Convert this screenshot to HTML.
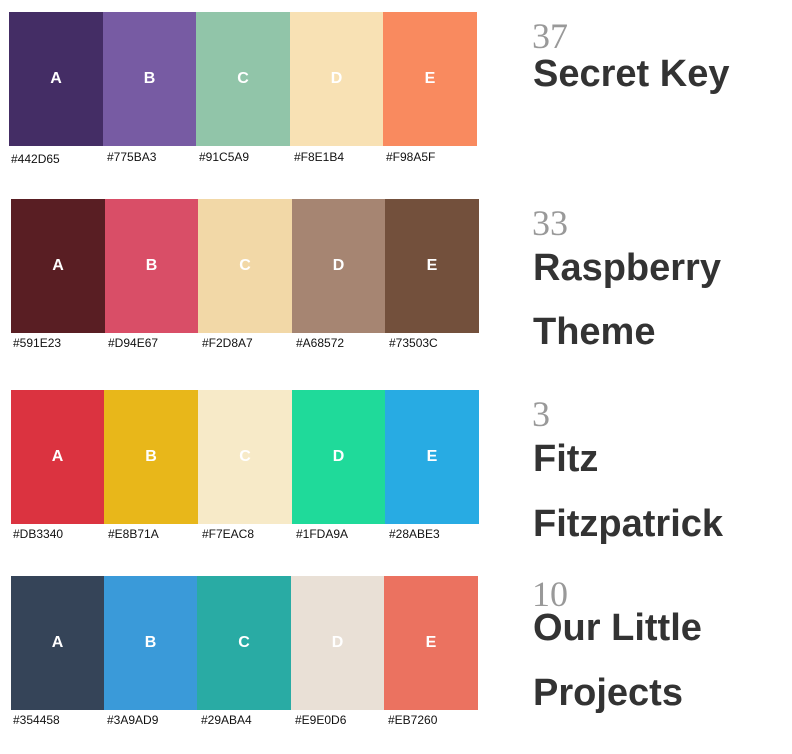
<!DOCTYPE html>
<html><head><meta charset="utf-8"><style>
body{margin:0;width:792px;height:754px;background:#fff;position:relative;overflow:hidden;font-family:"Liberation Sans",sans-serif}
.s{position:absolute;height:134px;color:#fff;font-weight:bold;font-size:16px;display:flex;align-items:center;justify-content:center}
.l{position:absolute;font-size:12px;color:#111;line-height:14px}
.n{position:absolute;left:532px;font-family:"Liberation Serif",serif;font-size:36px;line-height:36px;color:#999}
.t{position:absolute;left:533px;font-weight:bold;font-size:38px;line-height:38px;color:#333}
</style></head><body>
<div class="s" style="left:9px;top:12px;width:94px;background:#442D65">A</div>
<div class="s" style="left:103px;top:12px;width:93px;background:#775BA3">B</div>
<div class="s" style="left:196px;top:12px;width:94px;background:#91C5A9">C</div>
<div class="s" style="left:290px;top:12px;width:93px;background:#F8E1B4">D</div>
<div class="s" style="left:383px;top:12px;width:94px;background:#F98A5F">E</div>
<div class="l" style="left:11px;top:152px">#442D65</div>
<div class="l" style="left:107px;top:150px">#775BA3</div>
<div class="l" style="left:199px;top:150px">#91C5A9</div>
<div class="l" style="left:294px;top:150px">#F8E1B4</div>
<div class="l" style="left:386px;top:150px">#F98A5F</div>
<div class="n" style="top:18px">37</div>
<div class="t" style="top:55px">Secret Key</div>
<div class="s" style="left:11px;top:199px;width:94px;background:#591E23">A</div>
<div class="s" style="left:105px;top:199px;width:93px;background:#D94E67">B</div>
<div class="s" style="left:198px;top:199px;width:94px;background:#F2D8A7">C</div>
<div class="s" style="left:292px;top:199px;width:93px;background:#A68572">D</div>
<div class="s" style="left:385px;top:199px;width:94px;background:#73503C">E</div>
<div class="l" style="left:13px;top:336px">#591E23</div>
<div class="l" style="left:108px;top:336px">#D94E67</div>
<div class="l" style="left:202px;top:336px">#F2D8A7</div>
<div class="l" style="left:296px;top:336px">#A68572</div>
<div class="l" style="left:389px;top:336px">#73503C</div>
<div class="n" style="top:205px">33</div>
<div class="t" style="top:249px">Raspberry</div>
<div class="t" style="top:313px">Theme</div>
<div class="s" style="left:11px;top:390px;width:93px;background:#DB3340">A</div>
<div class="s" style="left:104px;top:390px;width:94px;background:#E8B71A">B</div>
<div class="s" style="left:198px;top:390px;width:94px;background:#F7EAC8">C</div>
<div class="s" style="left:292px;top:390px;width:93px;background:#1FDA9A">D</div>
<div class="s" style="left:385px;top:390px;width:94px;background:#28ABE3">E</div>
<div class="l" style="left:13px;top:527px">#DB3340</div>
<div class="l" style="left:108px;top:527px">#E8B71A</div>
<div class="l" style="left:202px;top:527px">#F7EAC8</div>
<div class="l" style="left:296px;top:527px">#1FDA9A</div>
<div class="l" style="left:389px;top:527px">#28ABE3</div>
<div class="n" style="top:396px">3</div>
<div class="t" style="top:440px">Fitz</div>
<div class="t" style="top:505px">Fitzpatrick</div>
<div class="s" style="left:11px;top:576px;width:93px;background:#354458">A</div>
<div class="s" style="left:104px;top:576px;width:93px;background:#3A9AD9">B</div>
<div class="s" style="left:197px;top:576px;width:94px;background:#29ABA4">C</div>
<div class="s" style="left:291px;top:576px;width:93px;background:#E9E0D6">D</div>
<div class="s" style="left:384px;top:576px;width:94px;background:#EB7260">E</div>
<div class="l" style="left:13px;top:713px">#354458</div>
<div class="l" style="left:107px;top:713px">#3A9AD9</div>
<div class="l" style="left:201px;top:713px">#29ABA4</div>
<div class="l" style="left:295px;top:713px">#E9E0D6</div>
<div class="l" style="left:388px;top:713px">#EB7260</div>
<div class="n" style="top:576px">10</div>
<div class="t" style="top:609px">Our Little</div>
<div class="t" style="top:674px">Projects</div>
</body></html>
